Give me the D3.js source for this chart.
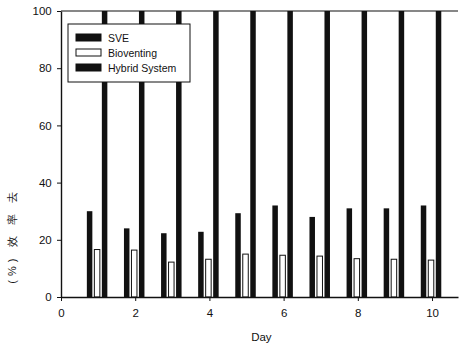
<!DOCTYPE html>
<html lang="en">
<head>
<meta charset="UTF-8">
<title>Removal</title>
<script src="https://cdn.jsdelivr.net/npm/d3@7"></script>
<style>
    body { margin: 0; background: #fff; }
    text { font-family: "Liberation Sans", Arial, sans-serif; fill: #111; }
</style>
</head>
<body>
<script>
    // data
    var days = [1, 2, 3, 4, 5, 6, 7, 8, 9, 10]
    var sve = [30, 24, 22.3, 22.8, 29.3, 32, 28, 31, 31, 32]
    var bioventing = [16.6, 16.4, 12.2, 13.2, 15, 14.6, 14.3, 13.4, 13.2, 12.9]
    var hybrid = [100, 100, 100, 100, 100, 100, 100, 100, 100, 100]
    var seriesNames = ['SVE', 'Bioventing', 'Hybrid System']
    var xTicks = [0, 2, 4, 6, 8, 10]
    var yTicks = [0, 20, 40, 60, 80, 100]

    var width = 460, height = 347
    var padding = {top: 11, right: 2, bottom: 50, left: 61}
    var plotW = width - padding.left - padding.right
    var plotH = height - padding.top - padding.bottom
    var barW = 5.5, barStep = 7.5

    var svg = d3.select('body').append('svg')
        .attr('width', width)
        .attr('height', height)

    var x = d3.scaleLinear().domain([0, 10.7]).range([0, plotW])
    var y = d3.scaleLinear().domain([0, 100]).range([plotH, 0])

    var g = svg.append('g')
        .attr('transform', `translate(${padding.left}, ${padding.top})`)

    var series = [
        {name: seriesNames[0], values: sve, fill: '#111', stroke: '#111'},
        {name: seriesNames[1], values: bioventing, fill: '#fff', stroke: '#111'},
        {name: seriesNames[2], values: hybrid, fill: '#111', stroke: '#111'}
    ]

    series.forEach((s, k) => {
        g.selectAll('.bar' + k)
            .data(days)
            .enter()
            .append('rect')
            .attr('class', 'bar' + k)
            .attr('x', (d, i) => x(d) + (k - 1) * barStep - barW / 2 - 1)
            .attr('y', (d, i) => y(s.values[i]))
            .attr('width', barW)
            .attr('height', (d, i) => plotH - y(s.values[i]))
            .attr('fill', s.fill)
            .attr('stroke', s.stroke)
            .attr('stroke-width', k == 1 ? 1 : 0)
    })

    // top frame line
    g.append('line')
        .attr('x1', 0).attr('x2', plotW)
        .attr('y1', 0).attr('y2', 0)
        .attr('stroke', '#111').attr('stroke-width', 1.2)

    var xAxis = d3.axisBottom(x).tickValues(xTicks).tickSize(4).tickSizeOuter(0)
    var yAxis = d3.axisLeft(y).tickValues(yTicks).tickSize(4).tickSizeOuter(0)

    var gx = g.append('g')
        .attr('transform', `translate(0, ${plotH})`)
        .call(xAxis)
    gx.selectAll('text').attr('font-size', 11.5).attr('dy', '1.1em')
    gx.select('.domain').attr('stroke-width', 1.4)

    var gy = g.append('g').call(yAxis)
    gy.selectAll('text').attr('font-size', 11.5).attr('dx', '-0.2em')
    gy.select('.domain').attr('stroke-width', 1.4)

    svg.selectAll('.domain, .tick line').attr('stroke', '#111')

    svg.append('text')
        .attr('x', padding.left + x(5.4))
        .attr('y', 341)
        .attr('text-anchor', 'middle')
        .attr('font-size', 11.5)
        .text('Day')

    svg.append('text')
        .attr('transform', 'translate(16, 236) rotate(-90)')
        .attr('text-anchor', 'middle')
        .attr('font-size', 11)
        .attr('letter-spacing', 4)
        .text('(%) 效 率 去')

    // legend
    var lg = svg.append('g').attr('transform', 'translate(68, 24)')
    lg.append('rect')
        .attr('width', 122).attr('height', 58)
        .attr('fill', '#fff').attr('stroke', '#111').attr('stroke-width', 1)
    series.forEach((s, k) => {
        lg.append('rect')
            .attr('x', 8).attr('y', 10 + k * 15)
            .attr('width', 25).attr('height', 7)
            .attr('fill', s.fill).attr('stroke', '#111').attr('stroke-width', 1)
        lg.append('text')
            .attr('x', 40).attr('y', 17.5 + k * 15)
            .attr('font-size', 10.5)
            .text(s.name)
    })
</script>
</body>
</html>
